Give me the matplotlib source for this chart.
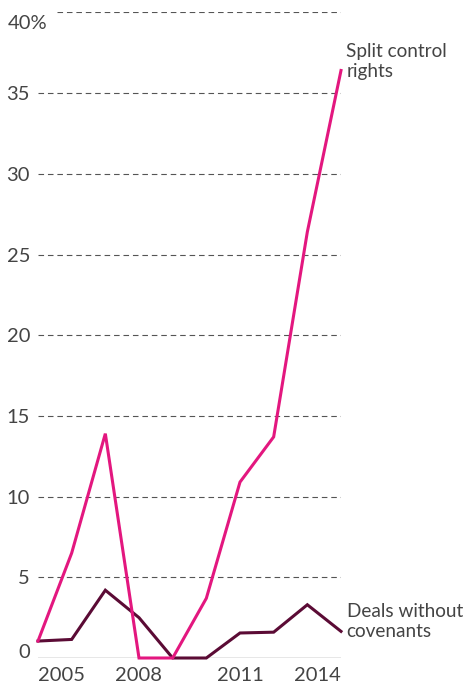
import matplotlib
matplotlib.use("Agg")
from matplotlib import pyplot as plt
import matplotlib.transforms as mtransforms

years = [2005, 2006, 2007, 2008, 2009, 2010, 2011, 2012, 2013, 2014]
split_control = [1.05, 6.5, 13.9, 0, 0, 3.7, 10.9, 13.7, 26.4, 36.4]
no_covenants = [1.05, 1.15, 4.2, 2.5, 0, 0, 1.55, 1.6, 3.3, 1.65]
y_ticks = [0, 5, 10, 15, 20, 25, 30, 35, 40]
x_ticks = [2005, 2008, 2011, 2014]

pink = "#e3177f"
maroon = "#5b0b35"
txt = "#444444"
fs = 14.5
fs_note = 13.7

plt.rcParams['font.family'] = ['Lato', 'DejaVu Sans']

W, H = 466, 685
fig = plt.figure(figsize=(W / 100, H / 100), dpi=100)
ax = fig.add_axes([38 / W, (H - 658) / H, (341 - 38) / W, (658 - 12.4) / H])
ax.set_xlim(2005, 2014)
ax.set_ylim(0, 40)
ax.axis("off")

# dashed gridlines, the top one starts right of the "40%" label
for v in y_ticks[1:]:
    start = (57 - 38) / (341 - 38) if v == 40 else 0
    ax.axhline(v, xmin=start, xmax=1, color="#555555", lw=0.8,
               dashes=(5, 3.5), zorder=1)
ax.axhline(0, color="#444444", lw=0.9, zorder=1)

ax.plot(years, no_covenants, color=maroon, lw=2.2, zorder=3,
        solid_joinstyle="miter", clip_on=False)
ax.plot(years, split_control, color=pink, lw=2.2, zorder=4,
        solid_joinstyle="miter", clip_on=False)

# y labels
ytr = mtransforms.blended_transform_factory(fig.transFigure, ax.transData)
for v in y_ticks:
    if v == 40:
        ax.text(8 / W, 39.3, "40%", transform=ytr, ha="left", va="center",
                fontsize=fs, color=txt)
    elif v == 0:
        ax.text(30 / W, 0.0, "0", transform=ytr, ha="right", va="baseline",
                fontsize=fs, color=txt)
    else:
        ax.text(30 / W, v - 0.1, str(v), transform=ytr, ha="right",
                va="center", fontsize=fs, color=txt)

# x labels, end ones kept inside the plot width
xtr = mtransforms.blended_transform_factory(ax.transData, fig.transFigure)
for yr in x_ticks:
    ha = "center"
    if yr == x_ticks[0]:
        ha = "left"
    elif yr == x_ticks[-1]:
        ha = "right"
    ax.text(yr, 1 / H, str(yr), transform=xtr, ha=ha, va="bottom",
            fontsize=fs, color=txt)

ax.text(2014.16, 38.1, "Split control\nrights", ha="left", va="top",
        fontsize=fs_note, color=txt, linespacing=1.2, clip_on=False)
ax.text(2014.17, 3.4, "Deals without\ncovenants", ha="left", va="top",
        fontsize=fs_note, color=txt, linespacing=1.2, clip_on=False)

fig.savefig("out.png", dpi=100)
